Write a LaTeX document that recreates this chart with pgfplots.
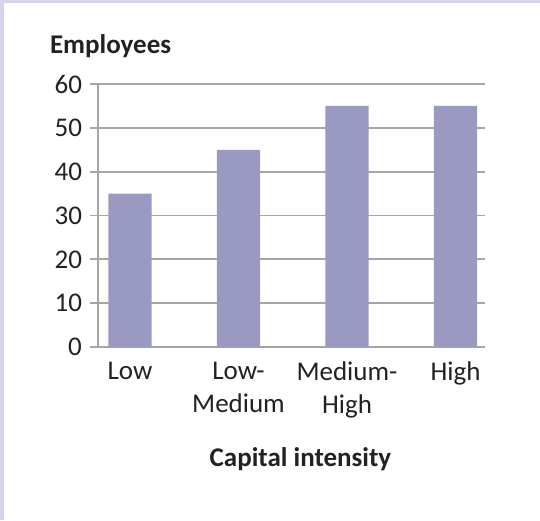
\documentclass[border=0pt]{standalone}
\usepackage{pgfplots}
\pgfplotsset{compat=1.18}
\usepackage{fontspec}
\setmainfont{Carlito}
\definecolor{barcol}{RGB}{153,153,194}
\definecolor{gridcol}{RGB}{166,166,166}
\definecolor{framecol}{RGB}{211,211,235}
\definecolor{txt}{RGB}{34,34,34}
\begin{document}
\begin{tikzpicture}
% page: 540x520 px at 0.5pt per px
\fill[white] (0,0) rectangle (270pt,260pt);
\fill[framecol] (0,258.25pt) rectangle (270pt,260pt);
\fill[framecol] (0,0) rectangle (1.75pt,260pt);
\begin{axis}[
    at={(49pt,86.5pt)}, anchor=south west,
    scale only axis, width=193.5pt, height=131.5pt,
    ybar, bar width=0.4,
    xmin=-0.295, xmax=3.272,
    ymin=0, ymax=60,
    ytick={0,10,...,60},
    xtick={0,1,2,3},
    xticklabels={Low,{Low-\\Medium},{Medium-\\High},High},
    axis x line=bottom, axis y line=left,
    axis line style={gridcol, line width=0.9pt, -},
    ymajorgrids, grid style={gridcol, line width=0.9pt},
    tick align=outside, major tick length=4pt,
    ytick style={gridcol, line width=0.9pt},
    xtick style={draw=none},
    /pgf/number format/assume math mode=true,
    ticklabel style={font=\fontsize{13.5}{16.5}\selectfont, text=txt},
    yticklabel style={xshift=-0.5pt},
    xticklabel style={align=center, anchor=north},
    xlabel={Capital intensity},
    ylabel={Employees},
    every axis x label/.style={at={(axis description cs:0.523,0)}, anchor=base,
        yshift=-59.9pt, font=\bfseries\fontsize{13.5}{16.5}\selectfont, text=txt},
    every axis y label/.style={at={(axis description cs:0,1)}, anchor=base west,
        xshift=-27.5pt, yshift=15.5pt, font=\bfseries\fontsize{13.5}{16.5}\selectfont, text=txt},
]
\addplot[fill=barcol, draw=none] coordinates {(0,35) (1,45) (2,55) (3,55)};
\end{axis}
\end{tikzpicture}
\end{document}
